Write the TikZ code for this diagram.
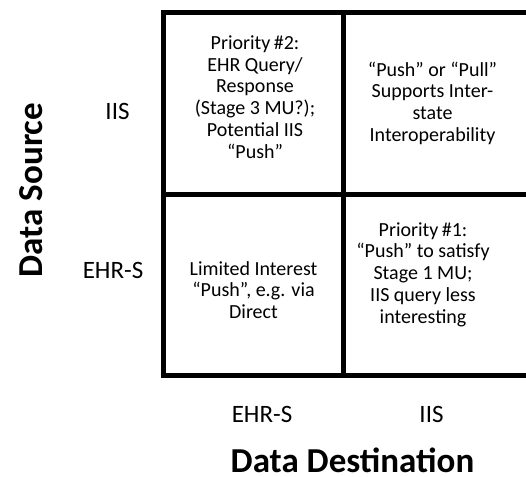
\documentclass[tikz,border=0pt]{standalone}
\usepackage{fontspec}
\setmainfont{Carlito}
\usetikzlibrary{positioning}

\begin{document}
\begin{tikzpicture}[x=1pt,y=-1pt,line width=5pt,
			cell/.style={align=center,inner sep=0pt,font=\fontsize{20}{21.7}\selectfont},
			tick/.style={inner sep=0pt,anchor=base,font=\fontsize{25}{29}\selectfont},
			axis/.style={inner sep=0pt,anchor=base,font=\bfseries\fontsize{35}{40}\selectfont}]
			\useasboundingbox (0,0) rectangle (526,476);
			% grid
			\coordinate (nw) at (163.5,12.5);
			\coordinate (ne) at (526,12.5);
			\coordinate (sw) at (163.5,375.5);
			\coordinate (se) at (526,375.5);
			\coordinate (mw) at (163.5,194);
			\coordinate (me) at (526,194);
			\coordinate (mn) at (343.5,12.5);
			\coordinate (ms) at (343.5,375.5);
			\draw (ne) -- (nw) -- (sw) -- (se);
			\draw (mw) -- (me);
			\draw (mn) -- (ms);
			% cells
			\node[cell] (II) at (255,97) {Priority\,\#2:\\EHR Query/\\Response\\(Stage 3 MU?);\\Potential IIS\\“Push”};
			\node[cell] (EI) at (432.5,103) {“Push” or “Pull”\\Supports Inter-\\state\\Interoperability};
			\node[cell] (EE) at (253.5,290) {Limited Interest\\“Push”, e.g. via\\Direct};
			\node[cell] (IE) at (423,274.5) {Priority\,\#1:\\“Push” to satisfy\\Stage 1 MU;\\IIS query less\\interesting};
			% axes
			\node[tick] (srcIIS) at (117.5,119) {IIS};
			\node[tick] (srcEHR) at (113,278) {EHR-S};
			\node[tick] (dstEHR) at (262,422) {EHR-S};
			\node[tick] (dstIIS) at (431.5,422) {IIS};
			\node[axis,rotate=90] (src) at (42,190) {Data Source};
			\node[axis] (dst) at (352.5,472.5) {Data Destination};
		\end{tikzpicture}
\end{document}
